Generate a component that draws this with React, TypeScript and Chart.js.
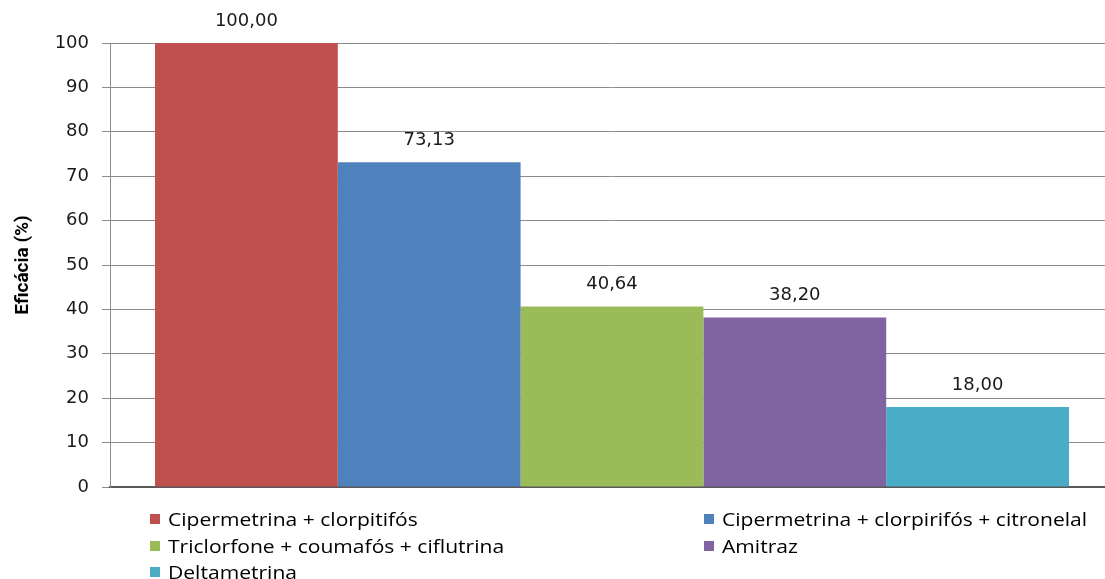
import React, { useEffect, useRef } from "react";
import { Chart, registerables } from "chart.js";

Chart.register(...registerables);

const categories = [""];
const seriesLabels = [
  "Cipermetrina + clorpitifós",
  "Cipermetrina + clorpirifós + citronelal",
  "Triclorfone + coumafós + ciflutrina",
  "Amitraz",
  "Deltametrina",
];
const seriesValues = [100.0, 73.13, 40.64, 38.2, 18.0];
const seriesColors = ["#C0504D", "#4F81BD", "#9BBB59", "#8064A2", "#4BACC6"];
const yTitle = "Eficácia (%)";
const yMin = 0;
const yMax = 100;
const yStep = 10;

const fmt = (v: number) => v.toFixed(2).replace(".", ",");

const valueLabels = {
  id: "valueLabels",
  afterDatasetsDraw(chart: any) {
    const ctx = chart.ctx;
    ctx.save();
    ctx.font = "18px 'DejaVu Sans'";
    ctx.fillStyle = "#1a1a1a";
    ctx.textAlign = "center";
    ctx.textBaseline = "bottom";
    chart.data.datasets.forEach((ds: any, i: number) => {
      const meta = chart.getDatasetMeta(i);
      meta.data.forEach((bar: any, j: number) => {
        ctx.fillText(fmt(ds.data[j]), bar.x, bar.y - 13);
      });
    });
    ctx.restore();
  },
};

export default function App() {
  const ref = useRef<HTMLCanvasElement>(null);
  useEffect(() => {
    if (!ref.current) return;
    const chart = new Chart(ref.current, {
      type: "bar",
      data: {
        labels: categories,
        datasets: seriesLabels.map((label, i) => ({
          label,
          data: [seriesValues[i]],
          backgroundColor: seriesColors[i],
          borderWidth: 0,
          barPercentage: 1,
          categoryPercentage: 0.9104,
        })),
      },
      options: {
        responsive: false,
        animation: false,
        layout: { padding: { top: 43, right: 0, bottom: 84, left: 0 } },
        plugins: { legend: { display: false }, tooltip: { enabled: false } },
        scales: {
          x: {
            grid: { display: false },
            ticks: { display: false },
            border: { display: true, color: "#595959", width: 2 },
          },
          y: {
            min: yMin,
            max: yMax,
            ticks: {
              stepSize: yStep,
              font: { family: "DejaVu Sans", size: 18 },
              color: "#1a1a1a",
              padding: 13,
            },
            grid: { color: "#8c8c8c", tickLength: 8, lineWidth: 1 },
            border: { color: "#8c8c8c", width: 1 },
            title: {
              display: true,
              text: yTitle,
              font: { family: "Roboto", weight: "bold", size: 19 },
              color: "#000",
              padding: { top: 12, bottom: 0 },
            },
            afterFit(scale: any) {
              scale.width = 110;
            },
          },
        },
      },
      plugins: [valueLabels],
    } as any);
    return () => chart.destroy();
  }, []);

  const legendItem = (i: number, left: number, top: number) => (
    <div
      key={i}
      style={{
        position: "absolute",
        left,
        top,
        display: "flex",
        alignItems: "center",
        whiteSpace: "nowrap",
        color: "#000",
        lineHeight: "20px",
      }}
    >
      <span
        style={{
          display: "inline-block",
          width: 10,
          height: 10,
          background: seriesColors[i],
          marginRight: 8,
        }}
      />
      <span
        style={{
          display: "inline-block",
          fontFamily: "'Open Sans'",
          fontSize: 18,
          transform: "scaleX(1.17)",
          transformOrigin: "left center",
        }}
      >
        {seriesLabels[i]}
      </span>
    </div>
  );

  return (
    <div
      style={{
        position: "fixed",
        left: 0,
        top: 0,
        width: 1105,
        height: 579,
        background: "#fff",
        overflow: "hidden",
      }}
    >
      <canvas ref={ref} width={1114} height={579} style={{ display: "block" }} />
      {legendItem(0, 150, 509)}
      {legendItem(1, 704, 509)}
      {legendItem(2, 150, 536)}
      {legendItem(3, 704, 536)}
      {legendItem(4, 150, 562)}
    </div>
  );
}
